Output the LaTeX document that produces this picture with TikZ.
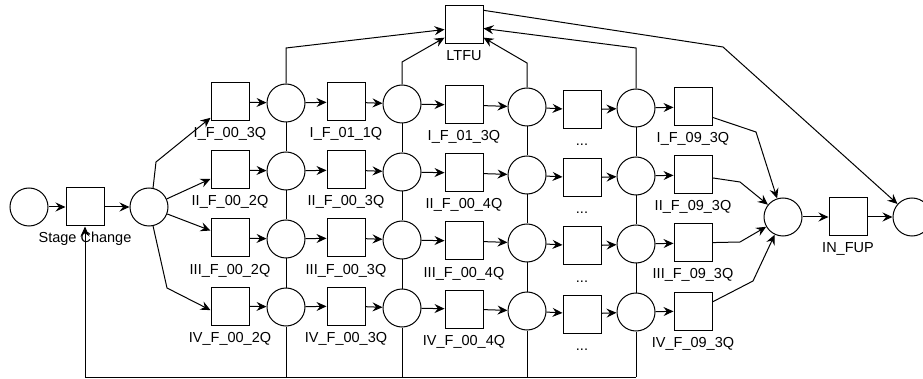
\documentclass[tikz,border=0pt]{standalone}
\usepackage{fontspec}
\setmainfont{Liberation Sans}
\usetikzlibrary{arrows.meta}
\usetikzlibrary{positioning}

\tikzset{
  place/.style={circle,draw,line width=1pt,minimum size=38pt,inner sep=0pt},
  trans/.style={rectangle,draw,line width=1pt,minimum size=38pt,inner sep=0pt},
  lbl/.style={font=\fontsize{14.5}{16}\selectfont,inner sep=0pt,text height=10pt,text depth=3pt},
}

\begin{document}
\begin{tikzpicture}[x=1pt,y=-1pt,line width=1pt,>={Stealth[length=10pt,width=9pt,inset=3.5pt]}]
	\useasboundingbox (0,0) rectangle (923,379);
	
	% Entry
	\node[place] (start) at (29,207) {};
	\node[trans] (stage) at (85,207) {};
	\node[lbl,below=6pt of stage] (lstage) {Stage Change};
	\node[place] (split) at (149,207) {};
	\draw[->] (start) -- (stage);
	\draw[->] (stage) -- (split);
	
	% The four rows
	\foreach \r/\y/\n/\la/\lb/\lc in {1/102/I/00\_3Q/01\_1Q/01\_3Q,
		2/170/II/00\_2Q/00\_3Q/00\_4Q,
		3/238/III/00\_2Q/00\_3Q/00\_4Q,
		4/306/IV/00\_2Q/00\_3Q/00\_4Q}{
		\node[trans] (t1-\r) at (230,\y) {};
		\node[place] (q1-\r) at (286,\y+1) {};
		\node[trans] (t2-\r) at (346,\y) {};
		\node[place] (q2-\r) at (402,\y+2) {};
		\node[trans] (t3-\r) at (464,\y+3) {};
		\node[place] (q3-\r) at (527,\y+5) {};
		\node[trans] (t4-\r) at (582,\y+8) {};
		\node[place] (q4-\r) at (636,\y+6) {};
		\node[trans] (t5-\r) at (693,\y+5) {};
		\node[lbl,below=6pt of t1-\r] (l1-\r) {\n\_F\_\la};
		\node[lbl,below=6pt of t2-\r] (l2-\r) {\n\_F\_\lb};
		\node[lbl,below=6pt of t3-\r] (l3-\r) {\n\_F\_\lc};
		\node[lbl,below=6pt of t4-\r] (l4-\r) {...};
		\node[lbl,below=6pt of t5-\r] (l5-\r) {\n\_F\_09\_3Q};
		\foreach \a/\b in {t1/q1,q1/t2,t2/q2,q2/t3,t3/q3,q3/t4,t4/q4,q4/t5}
		\draw[->] (\a-\r) -- (\b-\r);
	}
	
	% Split into the rows
	\draw[->] (split.78) -- (156,162) -- (t1-1);
	\draw[->] (split) -- (t1-2);
	\draw[->] (split) -- (t1-3);
	\draw[->] (split.282) -- (167,288) -- (t1-4.192);
	
	% Columns of places
	\foreach \c in {1,...,4}
	\draw (q\c-1) -- (q\c-2) -- (q\c-3) -- (q\c-4);
	
	% Back to Stage Change
	\coordinate (back) at (stage |- 0,377);
	\foreach \c in {1,...,4}
	\draw (q\c-4) -- (q\c-4 |- back);
	\draw[->] (q4-4 |- back) -- (back) -- (stage);
	
	% Lost to follow-up
	\node[trans] (ltfu) at (464,25) {};
	\node[lbl,below=6pt of ltfu] (lltfu) {LTFU};
	\draw[->] (q1-1) -- (q1-1 |- 0,48) -- (ltfu.193);
	\draw[->] (q2-1) -- (q2-1 |- 0,62) -- (ltfu.213);
	\draw[->] (q3-1) -- (q3-1 |- 0,63) -- (ltfu.327);
	\draw[->] (q4-1) -- (q4-1 |- 0,48) -- (ltfu.350);
	
	% Merge and exit
	\node[place] (merge) at (783,217) {};
	\node[trans] (infup) at (848,217) {};
	\node[lbl,below=6pt of infup] (linfup) {IN\_FUP};
	\node[place] (done) at (912,217) {};
	\draw[->] (t5-1.332) -- (756,132) -- (merge);
	\draw[->] (t5-2) -- (740,182) -- (merge);
	\draw[->] (t5-3) -- (740,242) -- (merge);
	\draw[->] (t5-4.25) -- (753,281) -- (merge);
	\draw[->] (merge) -- (infup);
	\draw[->] (infup) -- (done);
	\draw[->] (ltfu.37) -- (723,47) -- (done);
	
\end{tikzpicture}
\end{document}
